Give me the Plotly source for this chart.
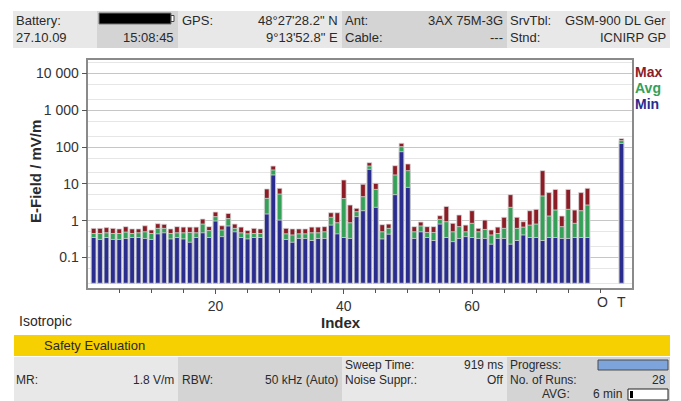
import plotly.graph_objects as go

W, H = 681, 401

# ---------------- data ----------------
index_vals = list(range(1, 79))
max_vals = [0.62, 0.62, 0.65, 0.62, 0.60, 0.69, 0.60, 0.60, 0.73, 0.56,
            0.83, 0.80, 0.60, 0.69, 0.67, 0.67, 0.67, 1.11, 0.69, 1.72,
            0.73, 1.58, 0.81, 0.67, 0.54, 0.62, 0.60, 7.3, 30.6, 7.6,
            0.62, 0.60, 0.60, 0.60, 0.67, 0.67, 0.69, 1.65, 1.65, 12.8,
            2.67, 2.17, 9.8, 37.8, 10.4, 0.78, 0.81, 31.3, 127, 34.9,
            0.69, 0.92, 0.69, 0.69, 1.37, 2.45, 0.85, 1.43, 0.76, 1.87,
            0.62, 1.04, 0.56, 0.67, 1.24, 5.1, 1.24, 0.94, 1.87, 2.04,
            22.9, 5.8, 7.1, 1.34, 7.1, 1.95, 5.8, 7.6]
avg_vals = [0.45, 0.45, 0.47, 0.45, 0.45, 0.49, 0.45, 0.47, 0.50, 0.45,
            0.62, 0.62, 0.45, 0.47, 0.47, 0.48, 0.47, 0.81, 0.54, 1.29,
            0.56, 1.14, 0.62, 0.47, 0.44, 0.45, 0.45, 4.05, 23.9, 5.3,
            0.44, 0.41, 0.44, 0.44, 0.47, 0.47, 0.50, 1.24, 0.88, 4.0,
            0.88, 1.76, 4.5, 30.6, 7.1, 0.50, 0.62, 17.5, 103, 22.9,
            0.50, 0.72, 0.48, 0.48, 1.09, 0.94, 0.50, 0.69, 0.50, 0.85,
            0.50, 0.58, 0.41, 0.45, 0.62, 2.31, 0.62, 0.67, 0.76, 0.81,
            4.7, 1.34, 1.95, 0.69, 2.04, 0.85, 1.87, 2.67]
min_vals = [0.35, 0.31, 0.35, 0.31, 0.31, 0.33, 0.35, 0.35, 0.33, 0.31,
            0.44, 0.47, 0.32, 0.35, 0.32, 0.26, 0.35, 0.47, 0.35, 0.98,
            0.37, 0.72, 0.50, 0.35, 0.32, 0.35, 0.35, 1.52, 17.5, 1.04,
            0.31, 0.26, 0.33, 0.33, 0.29, 0.33, 0.33, 0.76, 0.44, 0.35,
            0.33, 1.29, 1.87, 24.9, 2.31, 0.32, 0.43, 5.1, 75, 8.05,
            0.33, 0.50, 0.35, 0.29, 0.81, 0.35, 0.27, 0.33, 0.37, 0.35,
            0.33, 0.33, 0.23, 0.33, 0.33, 0.23, 0.29, 0.41, 0.35, 0.35,
            0.29, 0.35, 0.35, 0.33, 0.33, 0.35, 0.35, 0.35]

# "T" (total) bar
total_label = "T"
total_pos = 83.3
total_max, total_avg, total_min = 170, 150, 126
other_label = "O"
other_pos = 80.4

y_tick_vals = [0.1, 1, 10, 100, 1000, 10000]
y_tick_text = ["0.1", "1", "10", "100", "1 000", "10 000"]
x_tick_vals = [20, 40, 60]
x_tick_text = ["20", "40", "60"]

series_names = ["Max", "Avg", "Min"]
series_colors = ["#8c1d26", "#34a058", "#2a2c8e"]

BASE = 0.02

# ---------------- helpers ----------------
def px(x):
    return x / W

def py(y):
    return 1 - y / H

shapes = []
annotations = []

def rect(x0, y0, x1, y1, fill, lc=None, lw=0, layer="below"):
    shapes.append(dict(type="rect", xref="paper", yref="paper",
                       x0=px(x0), x1=px(x1), y0=py(y1), y1=py(y0),
                       fillcolor=fill, layer=layer,
                       line=dict(color=lc or fill, width=lw)))

FONT = "Liberation Sans, Arial, sans-serif"

def txt(x, y, text, anchor="left", size=13, color="#2a2a2a", bold=False, family=FONT, angle=0):
    annotations.append(dict(xref="paper", yref="paper", x=px(x), y=py(y),
                            text=("<b>%s</b>" % text) if bold else text,
                            xanchor=anchor, yanchor="middle", showarrow=False,
                            textangle=angle,
                            font=dict(family=family, size=size, color=color)))

LIGHT = "#e8e8e8"
DARK = "#d4d4d4"

# ---------------- header ----------------
cells = [(13, 97, LIGHT), (97, 178, DARK), (178, 342, LIGHT), (342, 507, DARK), (507, 670, LIGHT)]
for x0, x1, c in cells:
    rect(x0, 11, x1, 48, c)
# battery icon
rect(99, 13, 171, 24, "#000000", "#777777", 1, layer="above")
rect(171, 15.5, 174, 21.5, "#ffffff", "#444444", 1, layer="above")

r1, r2 = 20, 37
txt(14, r1, "Battery:")
txt(14, r2, "27.10.09")
txt(176, r2, "15:08:45", "right")
txt(180, r1, "GPS:")
txt(340, r1, "48°27'28.2\" N", "right")
txt(340, r2, "9°13'52.8\" E", "right")
txt(343, r1, "Ant:")
txt(343, r2, "Cable:")
txt(505, r1, "3AX 75M-3G", "right")
txt(505, r2, "---", "right")
txt(508, r1, "SrvTbl:")
txt(508, r2, "Stnd:")
txt(668, r1, "GSM-900 DL Ger", "right")
txt(668, r2, "ICNIRP GP", "right")

# ---------------- footer ----------------
rect(14, 335, 670, 356, "#f6d000")
txt(42, 345.5, "Safety Evaluation")
fcells = [(14, 178, LIGHT), (178, 342, DARK), (342, 507, LIGHT), (507, 670, DARK)]
for x0, x1, c in fcells:
    rect(x0, 357, x1, 402, c)
FS = 12
f1, f2, f3 = 365, 379.5, 393.5
txt(14, f2, "MR:", size=FS)
txt(176, f2, "1.8 V/m", "right", size=FS)
txt(180, f2, "RBW:", size=FS)
txt(340, f2, "50 kHz (Auto)", "right", size=FS)
txt(343, f1, "Sweep Time:", size=FS)
txt(505, f1, "919 ms", "right", size=FS)
txt(343, f2, "Noise Suppr.:", size=FS)
txt(505, f2, "Off", "right", size=FS)
txt(508, f1, "Progress:", size=FS)
rect(598, 360, 668, 370, "#7ea4dc", "#4a4a4a", 1, layer="above")
txt(508, f2, "No. of Runs:", size=FS)
txt(668, f2, "28", "right", size=FS)
txt(540, f3, "AVG:", size=FS)
txt(624, f3, "6 min", "right", size=FS)
rect(628, 389, 668, 400, "#ffffff", "#222222", 1, layer="above")
rect(630, 391, 633, 398, "#000000", "#000000", 0, layer="above")

# ---------------- axis titles / labels ----------------
txt(17, 321, "Isotropic", size=14)
txt(341, 322, "Index", "center", size=15, bold=True)
txt(36, 172, "E-Field / mV/m", "center", size=15, bold=True, angle=-90)
txt(other_pos * 6.414 + 87.2, 302, other_label, "center", size=14, color="#333333")
txt(total_pos * 6.414 + 87.2, 302, total_label, "center", size=14, color="#333333")
legend_y = [72, 88, 104]
for name, col, yy in zip(series_names, series_colors, legend_y):
    txt(633, yy, name, size=14, bold=True, color=col)

# ---------------- bars ----------------
fig = go.Figure()
x_all = index_vals + [total_pos]
series_vals = [max_vals + [total_max], avg_vals + [total_avg], min_vals + [total_min]]
for name, col, vals in zip(series_names, series_colors, series_vals):
    fig.add_trace(go.Bar(
        x=x_all, y=[v - BASE for v in vals], base=BASE, name=name,
        width=0.74, marker=dict(color=col, line=dict(color="#d8d8d8", width=0.8)),
        showlegend=False, hoverinfo="skip"))

fig.update_layout(
    width=W, height=H, margin=dict(l=0, r=0, t=0, b=0),
    paper_bgcolor="white", plot_bgcolor="white",
    barmode="overlay", shapes=shapes, annotations=annotations,
    xaxis=dict(domain=[px(88.3), px(631.7)], range=[0.17, 84.9],
               tickmode="array", tickvals=x_tick_vals, ticktext=x_tick_text,
               ticks="outside", ticklen=5, tickcolor="#555555",
               minor=dict(dtick=5, tick0=0, ticks="outside", ticklen=4, tickcolor="#555555"),
               showgrid=False, zeroline=False,
               showline=True, mirror=True, linecolor="#8a8a8a", linewidth=1.5,
               tickfont=dict(family=FONT, size=14, color="#333333")),
    yaxis=dict(domain=[py(287.7), py(60)], type="log", range=[-1.82, 4.367],
               tickmode="array", tickvals=y_tick_vals, ticktext=y_tick_text,
               ticks="outside", ticklen=5, tickcolor="#555555",
               showgrid=True, gridcolor="#c6c6c6", gridwidth=1,
               minor=dict(dtick="D2", showgrid=True, gridcolor="#e6e6e6", gridwidth=1),
               zeroline=False,
               showline=True, mirror=True, linecolor="#8a8a8a", linewidth=1.5,
               tickfont=dict(family=FONT, size=14, color="#333333")),
)

fig.write_html("out.html", config={"displayModeBar": False},
               post_script="document.body.style.margin='0';document.body.style.overflow='hidden';")
